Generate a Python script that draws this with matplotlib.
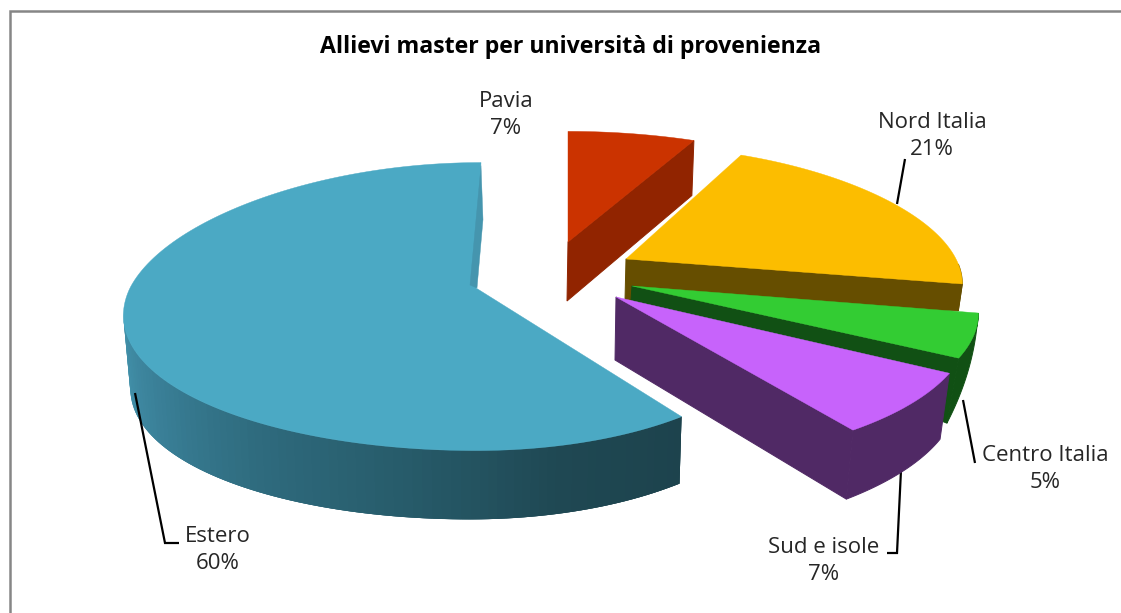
import numpy as np
import matplotlib
matplotlib.use('Agg')
import matplotlib.pyplot as plt
from matplotlib.colors import LinearSegmentedColormap
from matplotlib.patches import Polygon

# Dati
categorie = ['Pavia', 'Nord Italia', 'Centro Italia', 'Sud e isole', 'Estero']
valori = [7, 21, 5, 7, 60]

# Stile di ogni fetta: centro, raggi, spessore (inizio, fine) e centro, scala del fondo
colori_top = ['#cb3300', '#fcbd00', '#33cc33', '#c763fb', '#4ba9c4']
colori_lato = ['#912400', '#664e00', '#115014', '#502965', '#1d434d']
centri = [(568, 242), (626, 259), (632, 286), (616, 297), (476, 288)]
raggi = [(361, 127), (330, 130), (340, 141), (347, 149), (346, 144)]
spessori = [(55, 55), (27, 27), (15, 65), (66, 69), (67, 78)]
spessori_centro = [59, 41, 14, 63, 70]
scale_fondo = [(0.984, 0.984), (0.988, 0.988), (0.995, 0.964), (0.972, 0.972), (0.99, 0.972)]
sposta_x = [0, 0, 0, 0, 5]
K_X = 0.20   # prospettiva orizzontale
K_Y = 0.129  # prospettiva verticale
RX_ESTERO_DESTRA = 301

fig = plt.figure(figsize=(11.21, 6.13), dpi=100)
ax = fig.add_axes([0, 0, 1, 1])
ax.set_xlim(0, 1121)
ax.set_ylim(613, 0)
ax.axis('off')
plt.rcParams['font.family'] = ['Open Sans', 'DejaVu Sans']


def bordo(theta, i):
    # punto del bordo superiore della fetta i per un angolo theta (gradi, orario dall'alto)
    t = np.radians(theta)
    s, c = np.sin(t), np.cos(t)
    rx = np.where((i == 4) & (s > 0), RX_ESTERO_DESTRA, raggi[i][0])
    x = centri[i][0] + rx * s * (1 - K_X * c) + sposta_x[i] * np.clip(c, 0, 1)
    y = centri[i][1] - raggi[i][1] * c * (1 - K_Y * c)
    return x, y


def disegna_fetta(i, a0, a1):
    angoli = np.linspace(a0, a1, 160)
    x, y = bordo(angoli, i)
    h = np.linspace(spessori[i][0], spessori[i][1], len(angoli))
    sc = np.linspace(scale_fondo[i][0], scale_fondo[i][1], len(angoli))
    cx, cy = centri[i]
    xb = cx + (x - cx) * sc
    yb = y + h
    cxb = cx - 1
    cyb = cy + spessori_centro[i]

    if i == 4:
        # parete esterna sfumata, quad sovrapposti per non vedere le giunture
        sfumatura = LinearSegmentedColormap.from_list('estero', ['#1d434d', '#1f4853', '#275b6a', '#2f6c7f', '#3a8098', '#4494ad'])
        n = (angoli <= 262).sum()
        for j in range(n - 1, 0, -1):
            k = max(j - 3, 0)
            quad = [(x[k], y[k]), (x[j], y[j]), (xb[j], yb[j]), (xb[k], yb[k])]
            ax.add_patch(Polygon(quad, closed=True, fc=sfumatura(j / (n - 1)), ec='none', zorder=10 + i))
    else:
        # faccia radiale finale e parete esterna (solo la parte davanti)
        ax.add_patch(Polygon([(cx, cy), (x[-1], y[-1]), (xb[-1], yb[-1]), (cxb, cyb)], closed=True,
                             fc=colori_lato[i], ec=colori_lato[i], lw=0.7, zorder=10 + i))
        davanti = angoli >= 92
        if davanti.any():
            parete = np.column_stack([np.r_[x[davanti], xb[davanti][::-1]], np.r_[y[davanti], yb[davanti][::-1]]])
            ax.add_patch(Polygon(parete, closed=True, fc=colori_lato[i], ec=colori_lato[i], lw=0.7, zorder=10 + i))

    top = np.column_stack([np.r_[cx, x], np.r_[cy, y]])
    ax.add_patch(Polygon(top, closed=True, fc=colori_top[i], ec=colori_top[i], lw=0.3, zorder=10 + i))

    if i == 4:
        # piccola faccia interna visibile vicino al centro
        ax.add_patch(Polygon([(x[-1], y[-1] + 3), (x[-1] + 2, y[-1] + 57), (cx + 1, cy), (cx - 6, cy - 3)], closed=True,
                             fc='#4595ae', ec='#4595ae', lw=0.3, zorder=10 + i))


# Linee guida: quella di Estero passa sopra la parete
guide = [
    ([905, 897], [159, 204], 5),
    ([963, 975], [400, 463], 5),
    ([901, 897, 887], [470, 553, 553], 5),
    ([135, 165, 179], [393, 543, 543], 20),
]
for gx, gy, zo in guide:
    ax.plot(gx, gy, color='black', lw=1.6, solid_capstyle='butt', solid_joinstyle='miter', zorder=zo)

percentuali = np.array(valori) / sum(valori)
limiti = np.r_[0, np.cumsum(percentuali) * 360]
for i in range(len(valori)):
    disegna_fetta(i, limiti[i], limiti[i + 1])

# Etichette
posizioni = [(506, 115), (932, 136), (1045, 469), (824, 561), (218, 550)]
for nome, val, (px, py) in zip(categorie, valori, posizioni):
    ax.text(px, py, f'{nome}\n{val}%', ha='center', va='center', fontsize=16, color='#262626',
            linespacing=1.33, zorder=30)

ax.text(570.5, 47, 'Allievi master per università di provenienza', ha='center', va='center',
        fontsize=16.7, fontweight='bold', color='black', zorder=30)

# Cornice del grafico (visibile solo a sinistra e in alto)
ax.plot([9.5, 9.5, 1121], [613, 11, 11], color='#868686', lw=1.8, solid_joinstyle='miter', zorder=1)

fig.savefig('out.png', dpi=100, facecolor='white')
plt.close(fig)
